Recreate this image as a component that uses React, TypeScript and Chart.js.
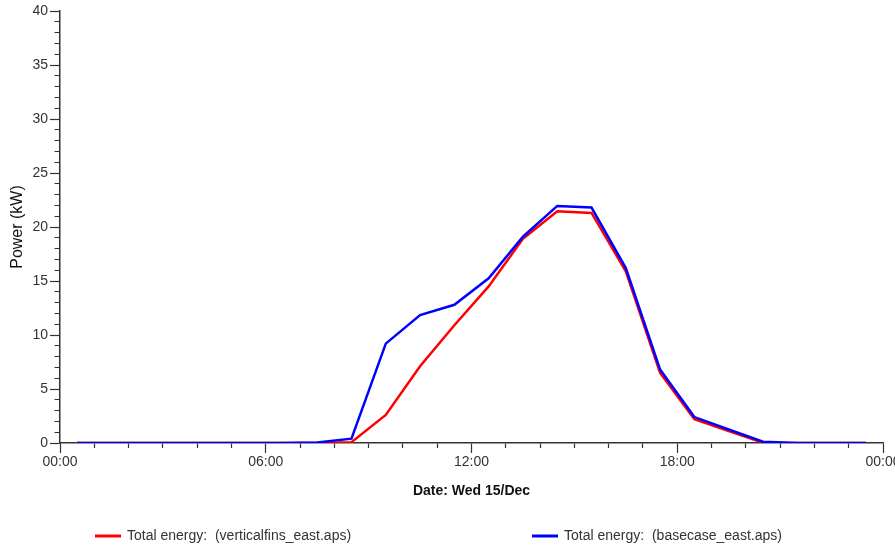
import { useEffect, useRef } from "react";
import { Chart, registerables } from "chart.js";

Chart.register(...registerables);

// Hourly samples, taken at half past each hour (00:30 … 23:30)
const hours = [
  0.5, 1.5, 2.5, 3.5, 4.5, 5.5, 6.5, 7.5, 8.5, 9.5, 10.5, 11.5,
  12.5, 13.5, 14.5, 15.5, 16.5, 17.5, 18.5, 19.5, 20.5, 21.5, 22.5, 23.5,
];

// Power (kW), vertical fins case
const verticalfinsEast = [
  0, 0, 0, 0, 0, 0, 0, 0, 0.08, 2.6, 7.1, 10.9,
  14.5, 18.9, 21.45, 21.3, 15.9, 6.5, 2.2, 1.1, 0.03, 0, 0, 0,
];

// Power (kW), base case
const basecaseEast = [
  0, 0, 0, 0, 0, 0, 0, 0.05, 0.4, 9.2, 11.85, 12.8,
  15.25, 19.1, 21.95, 21.8, 16.2, 6.8, 2.4, 1.25, 0.12, 0, 0, 0,
];

const seriesLabels = [
  "Total energy:  (verticalfins_east.aps)",
  "Total energy:  (basecase_east.aps)",
];
const seriesColors = ["#ff0000", "#0000ff"];

const xLabelEvery = 6; // hours between labelled time ticks
const yLabelEvery = 5; // kW between labelled power ticks
const xTitle = "Date: Wed 15/Dec";
const yTitle = "Power (kW)";

const FONT = '"Liberation Sans", Arial, Helvetica, sans-serif';
const AXIS = "#333333";

const pad2 = (n: number) => (n < 10 ? "0" + n : String(n));

// Legend drawn underneath the axes, one entry per dataset
const bottomLegend = {
  id: "bottomLegend",
  afterDraw(chart: any) {
    const ctx = chart.ctx as CanvasRenderingContext2D;
    const starts = [95, 532];
    const y = 536;
    chart.data.datasets.forEach((ds: any, i: number) => {
      const x = starts[i];
      ctx.save();
      ctx.strokeStyle = ds.borderColor;
      ctx.lineWidth = 3;
      ctx.beginPath();
      ctx.moveTo(x, y);
      ctx.lineTo(x + 26, y);
      ctx.stroke();
      ctx.fillStyle = AXIS;
      ctx.font = `14px ${FONT}`;
      ctx.textBaseline = "middle";
      ctx.textAlign = "left";
      ctx.fillText(ds.label, x + 32, y);
      ctx.restore();
    });
  },
};

export default function App() {
  const ref = useRef<HTMLCanvasElement>(null);

  useEffect(() => {
    const makeData = (vals: number[]) => hours.map((h, i) => ({ x: h, y: vals[i] }));
    const chart = new Chart(ref.current!, {
      type: "line",
      data: {
        datasets: [
          {
            label: seriesLabels[0],
            data: makeData(verticalfinsEast),
            borderColor: seriesColors[0],
            backgroundColor: seriesColors[0],
            borderWidth: 2.5,
            pointRadius: 0,
            tension: 0,
            order: 1,
          },
          {
            label: seriesLabels[1],
            data: makeData(basecaseEast),
            borderColor: seriesColors[1],
            backgroundColor: seriesColors[1],
            borderWidth: 2.5,
            pointRadius: 0,
            tension: 0,
            order: 0,
          },
        ],
      },
      options: {
        responsive: false,
        animation: false,
        devicePixelRatio: 1,
        layout: { padding: { left: 0, top: 11, right: 32, bottom: 44 } },
        plugins: { legend: { display: false }, tooltip: { enabled: false } },
        scales: {
          x: {
            type: "linear",
            min: 0,
            max: 24,
            afterFit: (s: any) => {
              s.height = 62;
            },
            border: { display: true, color: AXIS, width: 1.5 },
            grid: {
              drawOnChartArea: false,
              drawTicks: true,
              tickLength: 10,
              tickColor: AXIS,
              tickWidth: 1.2,
              tickBorderDash: (c: any) =>
                c.tick && c.tick.value % xLabelEvery !== 0 ? [4.5, 50] : [],
            },
            ticks: {
              stepSize: 1,
              autoSkip: false,
              maxRotation: 0,
              padding: 1,
              color: AXIS,
              font: { family: FONT, size: 14 },
              callback: (v: any) =>
                Number(v) % xLabelEvery === 0 ? pad2(Number(v) % 24) + ":00" : "",
            },
            title: {
              display: true,
              text: xTitle,
              color: "#111",
              font: { family: FONT, size: 14, weight: "bold" },
              padding: { top: 0, bottom: 5 },
            },
          },
          y: {
            min: 0,
            max: 40,
            afterFit: (s: any) => {
              s.width = 60;
            },
            border: { display: true, color: AXIS, width: 1.5 },
            grid: {
              drawOnChartArea: false,
              drawTicks: true,
              tickLength: 10,
              tickColor: AXIS,
              tickWidth: 1.2,
              tickBorderDash: (c: any) =>
                c.tick && c.tick.value % yLabelEvery !== 0 ? [0, 4.5, 6, 50] : [],
            },
            ticks: {
              stepSize: 1,
              autoSkip: false,
              padding: 2,
              color: AXIS,
              font: { family: FONT, size: 14 },
              callback: (v: any) => (Number(v) % yLabelEvery === 0 ? String(v) : ""),
            },
            title: {
              display: true,
              text: yTitle,
              color: "#111",
              font: { family: FONT, size: 16 },
              padding: { top: 8, bottom: 0 },
            },
          },
        },
      },
      plugins: [bottomLegend],
    } as any);
    return () => chart.destroy();
  }, []);

  return (
    <div
      style={{
        position: "fixed",
        left: 0,
        top: 0,
        width: 895,
        height: 549,
        overflow: "hidden",
        background: "#fff",
      }}
    >
      <canvas ref={ref} width={915} height={549} style={{ display: "block", width: 915, height: 549 }} />
    </div>
  );
}
